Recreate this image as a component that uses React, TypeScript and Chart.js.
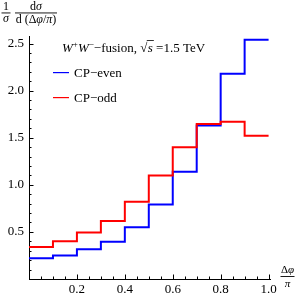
import { useEffect, useRef } from 'react';
import { Chart, registerables } from 'chart.js';
Chart.register(...registerables);

const binEdges = [0, 0.1, 0.2, 0.3, 0.4, 0.5, 0.6, 0.7, 0.8, 0.9, 1.0];
const cpEven = [0.22, 0.25, 0.315, 0.395, 0.55, 0.79, 1.14, 1.63, 2.18, 2.54];
const cpOdd = [0.34, 0.4, 0.495, 0.615, 0.82, 1.1, 1.4, 1.645, 1.67, 1.52];
const xTickValues = [0.2, 0.4, 0.6, 0.8, 1.0];
const yTickValues = [0.5, 1.0, 1.5, 2.0, 2.5];
const seriesNames = ['CP−even', 'CP−odd'];
const seriesColors = ['#0000ff', '#ff0000'];

const SERIF = '"Liberation Serif", "DejaVu Serif", serif';

function toSteps(values: number[]) {
  return binEdges.map((x, i) => ({ x, y: values[Math.min(i, values.length - 1)] }));
}

type Run = { t: string; i?: boolean; s?: number; dy?: number };

function runsWidth(ctx: CanvasRenderingContext2D, runs: Run[], base: number) {
  let w = 0;
  for (const r of runs) {
    ctx.font = `${r.i ? 'italic ' : ''}${r.s ?? base}px ${SERIF}`;
    w += ctx.measureText(r.t).width;
  }
  return w;
}

function drawRuns(ctx: CanvasRenderingContext2D, runs: Run[], x: number, y: number, base: number, align: 'left' | 'center' = 'left') {
  let cx = align === 'center' ? x - runsWidth(ctx, runs, base) / 2 : x;
  ctx.textAlign = 'left';
  ctx.textBaseline = 'alphabetic';
  for (const r of runs) {
    ctx.font = `${r.i ? 'italic ' : ''}${r.s ?? base}px ${SERIF}`;
    ctx.fillText(r.t, cx, y + (r.dy ?? 0));
    cx += ctx.measureText(r.t).width;
  }
  return cx;
}

const decorPlugin = {
  id: 'decor',
  afterDraw(chart: any) {
    const ctx: CanvasRenderingContext2D = chart.ctx;
    const xs = chart.scales.x;
    const ys = chart.scales.y;
    const x0 = xs.getPixelForValue(0);
    const y0 = ys.getPixelForValue(0);
    ctx.save();
    ctx.strokeStyle = '#000';
    ctx.fillStyle = '#000';
    ctx.lineWidth = 1;
    // y ticks (inward)
    for (let i = 1; i <= 25; i++) {
      const v = i / 10;
      const py = Math.round(ys.getPixelForValue(v)) + 0.5;
      const len = i % 5 === 0 ? 4.5 : 2.5;
      ctx.beginPath();
      ctx.moveTo(x0, py);
      ctx.lineTo(x0 + len, py);
      ctx.stroke();
    }
    // x ticks (inward)
    for (let i = 1; i <= 20; i++) {
      const v = i / 20;
      const px = Math.round(xs.getPixelForValue(v)) + 0.5;
      const len = i % 4 === 0 ? 4.5 : 2.5;
      ctx.beginPath();
      ctx.moveTo(px, y0);
      ctx.lineTo(px, y0 - len);
      ctx.stroke();
    }

    // y axis label: 1/σ  dσ / d(Δφ/π)
    ctx.fillStyle = '#000';
    drawRuns(ctx, [{ t: '1' }], 6, 9.5, 12, 'center');
    ctx.fillRect(1.5, 12.5, 9, 0.9);
    drawRuns(ctx, [{ t: 'σ', i: true }], 6, 22, 12, 'center');
    drawRuns(ctx, [{ t: 'd' }, { t: 'σ', i: true }], 36, 9.5, 12, 'center');
    ctx.fillRect(15, 12.5, 42, 0.9);
    drawRuns(ctx, [{ t: 'd (Δ' }, { t: 'φ', i: true }, { t: '/' }, { t: 'π', i: true }, { t: ')' }], 36, 23, 12, 'center');

    // x axis label: Δφ/π
    drawRuns(ctx, [{ t: 'Δ' }, { t: 'φ', i: true }], 287.5, 273, 11, 'center');
    ctx.fillRect(280.5, 276, 14, 0.9);
    drawRuns(ctx, [{ t: 'π', i: true }], 287.5, 286.5, 11, 'center');

    // title
    let cx = drawRuns(
      ctx,
      [
        { t: 'W', i: true },
        { t: '+', s: 9, dy: -5 },
        { t: 'W', i: true },
        { t: '−', s: 9, dy: -5 },
        { t: '−fusion, ' },
      ],
      62,
      52,
      13
    );
    ctx.font = `13px ${SERIF}`;
    ctx.fillText('√', cx, 52);
    cx += ctx.measureText('√').width;
    ctx.font = `italic 13px ${SERIF}`;
    const sw = ctx.measureText('s').width;
    ctx.fillRect(cx - 0.5, 40, sw + 2, 0.8);
    ctx.fillText('s', cx + 0.5, 52);
    cx += sw + 0.5;
    drawRuns(ctx, [{ t: ' =1.5 TeV' }], cx, 52, 13);

    // legend
    const legendY = [72, 97];
    const textY = [77, 102];
    for (let k = 0; k < seriesNames.length; k++) {
      ctx.fillStyle = seriesColors[k];
      ctx.fillRect(53, legendY[k], 16, 1.2);
      ctx.fillStyle = '#000';
      drawRuns(ctx, [{ t: seriesNames[k] }], 74, textY[k], 13);
    }
    ctx.restore();
  },
};

export default function App() {
  const ref = useRef<HTMLCanvasElement>(null);
  useEffect(() => {
    if (!ref.current) return;
    const chart = new Chart(ref.current, {
      type: 'line',
      data: {
        datasets: [
          {
            label: seriesNames[1],
            data: toSteps(cpOdd),
            borderColor: seriesColors[1],
            borderWidth: 2,
            stepped: true,
            pointRadius: 0,
            fill: false,
          },
          {
            label: seriesNames[0],
            data: toSteps(cpEven),
            borderColor: seriesColors[0],
            borderWidth: 2,
            stepped: true,
            pointRadius: 0,
            fill: false,
          },
        ],
      },
      options: {
        animation: false,
        responsive: false,
        maintainAspectRatio: false,
        layout: { padding: { top: 36, right: 29.5, left: 0, bottom: 0 } },
        plugins: { legend: { display: false }, tooltip: { enabled: false }, title: { display: false } },
        scales: {
          x: {
            type: 'linear',
            min: 0,
            max: 1.008,
            grid: { display: false, drawTicks: false },
            border: { display: true, color: '#000', width: 1 },
            ticks: {
              color: '#000',
              font: { family: SERIF, size: 13 },
              padding: 3,
              maxRotation: 0,
              callback: (v: any) => Number(v).toFixed(1),
            },
            afterBuildTicks: (s: any) => {
              s.ticks = xTickValues.map((v) => ({ value: v }));
            },
            afterFit: (s: any) => {
              s.height = 20;
            },
          },
          y: {
            type: 'linear',
            min: 0,
            max: 2.58,
            grid: { display: false, drawTicks: false },
            border: { display: true, color: '#000', width: 1 },
            ticks: {
              color: '#000',
              font: { family: SERIF, size: 13 },
              padding: 5,
              callback: (v: any) => Number(v).toFixed(1),
            },
            afterBuildTicks: (s: any) => {
              s.ticks = yTickValues.map((v) => ({ value: v }));
            },
            afterFit: (s: any) => {
              s.width = 29;
            },
          },
        },
      },
      plugins: [decorPlugin],
    });
    return () => chart.destroy();
  }, []);
  return (
    <div style={{ position: 'fixed', left: 0, top: 0, width: 300, height: 299, background: '#fff' }}>
      <canvas ref={ref} width={300} height={299} style={{ display: 'block', width: 300, height: 299 }} />
    </div>
  );
}
